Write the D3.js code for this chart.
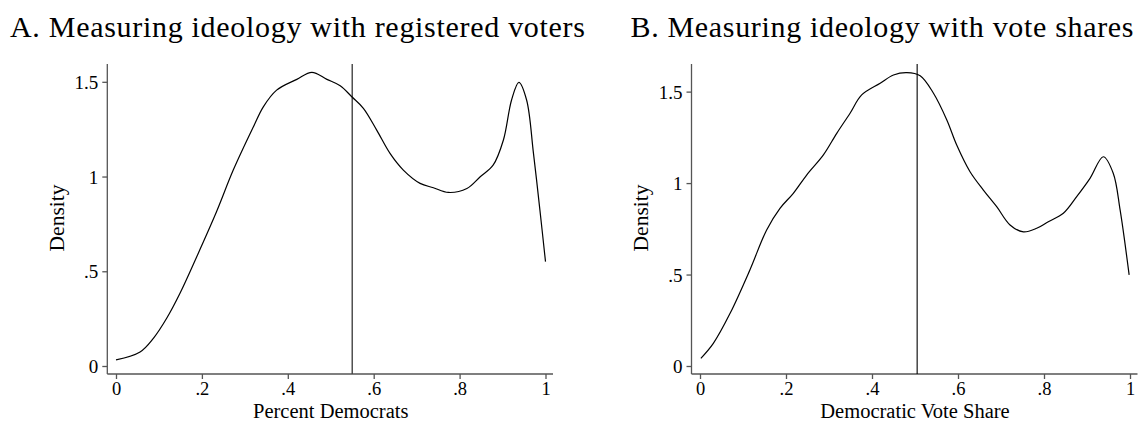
<!DOCTYPE html>
<html><head><meta charset="utf-8">
<script src="https://cdn.jsdelivr.net/npm/d3@7"></script>
<style>body{margin:0;background:#fff}svg{display:block}text{font-family:"Liberation Serif","Times New Roman",serif;fill:#000}</style>
</head><body><svg id="c" width="1140" height="422"></svg>
<script>
// Panel A: registered voters
const xA = [0,0.056,0.087,0.118,0.149,0.188,0.234,0.273,0.320,0.343,0.374,0.421,0.456,0.491,0.522,0.549,0.576,0.607,0.638,0.669,0.708,0.739,0.774,0.817,0.848,0.878,0.902,0.921,0.938,0.956,0.972,0.987,1.0];
const densA = [0.032,0.074,0.146,0.252,0.384,0.577,0.814,1.034,1.263,1.368,1.456,1.513,1.550,1.513,1.479,1.421,1.360,1.245,1.122,1.034,0.964,0.941,0.916,0.937,0.999,1.060,1.193,1.404,1.497,1.404,1.122,0.823,0.551];
// Panel B: vote shares
const xB = [0.002,0.031,0.070,0.116,0.155,0.186,0.217,0.248,0.287,0.318,0.349,0.376,0.419,0.450,0.481,0.512,0.543,0.574,0.597,0.628,0.659,0.690,0.721,0.752,0.783,0.810,0.845,0.876,0.907,0.938,0.961,0.977,0.998];
const densB = [0.042,0.124,0.288,0.525,0.744,0.862,0.944,1.044,1.154,1.272,1.382,1.482,1.546,1.591,1.604,1.587,1.491,1.345,1.208,1.062,0.962,0.871,0.771,0.733,0.753,0.789,0.835,0.926,1.026,1.144,1.054,0.853,0.498];
const xTicks = [0,0.2,0.4,0.6,0.8,1];
const xTickLabels = ["0",".2",".4",".6",".8","1"];
const yTicks = [0,0.5,1,1.5];
const yTickLabels = ["0",".5","1","1.5"];
const vlineA = 0.55, vlineB = 0.505;
const titles = ["A. Measuring ideology with registered voters","B. Measuring ideology with vote shares"];
const xTitles = ["Percent Democrats","Democratic Vote Share"];
const yTitle = "Density";

const svg = d3.select("#c");
const panels = [
  {xs:xA, ys:densA, vline:vlineA, title:titles[0], xt:xTitles[0], x0:116, x1:545.5, ymax:1.594, axX:107.3, titleX:10, titleW:575, vColor:"#444", vW:1.4, yTitleX:64},
  {xs:xB, ys:densB, vline:vlineB, title:titles[1], xt:xTitles[1], x0:700, x1:1130, ymax:1.651, axX:691.5, titleX:630.5, titleW:503, vColor:"#000", vW:1.1, yTitleX:648}
];
panels.forEach(p=>{
  const x = d3.scaleLinear().domain([0,1]).range([p.x0,p.x1]);
  const y = d3.scaleLinear().domain([0,p.ymax]).range([366,64]);
  const g = svg.append("g");
  const axisColor = "#555";
  const ya = g.append("g").attr("transform",`translate(${p.axX},0)`)
    .call(d3.axisLeft(y).tickValues(yTicks).tickFormat((d,i)=>yTickLabels[i]).tickSize(5).tickPadding(4));
  ya.select(".domain").attr("d",`M0,64V374`);
  const xa = g.append("g").attr("transform",`translate(0,374)`)
    .call(d3.axisBottom(x).tickValues(xTicks).tickFormat((d,i)=>xTickLabels[i]).tickSize(5).tickPadding(2));
  xa.select(".domain").attr("d",`M${p.axX},0H${p.x1+7.5}`);
  [ya,xa].forEach(a=>{
    a.selectAll(".domain,.tick line").attr("stroke",axisColor).attr("stroke-width",1.3);
    a.selectAll("text").style("font-family","Liberation Serif").style("font-size","19px").attr("fill","#000");
  });
  ya.selectAll("text").attr("dy","0.34em");
  xa.selectAll("text").style("font-size","18.5px").attr("dy","0.75em");
  g.append("line").attr("x1",x(p.vline)).attr("x2",x(p.vline)).attr("y1",64).attr("y2",374)
    .attr("stroke",p.vColor).attr("stroke-width",p.vW);
  const line = d3.line().x((d,i)=>x(p.xs[i])).y(d=>y(d)).curve(d3.curveCatmullRom.alpha(0.5));
  g.append("path").attr("d",line(p.ys)).attr("fill","none").attr("stroke","#000").attr("stroke-width",1.2);
  g.append("text").attr("x",p.titleX).attr("y",37).style("font-size","30px")
    .attr("textLength",p.titleW).attr("lengthAdjust","spacing").text(p.title);
  g.append("text").attr("x",(p.x0+p.x1)/2).attr("y",417.5).attr("text-anchor","middle").style("font-size","20.5px").text(p.xt);
  g.append("text").attr("transform",`translate(${p.yTitleX},218) rotate(-90)`).attr("text-anchor","middle").style("font-size","21.5px").text(yTitle);
});
</script></body></html>
